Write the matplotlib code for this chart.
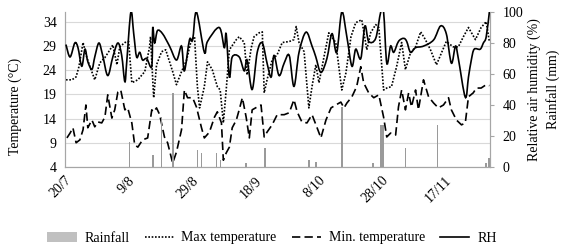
import matplotlib
matplotlib.use("Agg")
import matplotlib.pyplot as plt
import numpy as np
from matplotlib.lines import Line2D
from matplotlib.patches import Patch, PathPatch
from matplotlib.path import Path

# ==========================
# DATA (days counted from 20/7)
# ==========================
TICK_LABELS = ["20/7", "9/8", "29/8", "18/9", "8/10", "28/10", "17/11"]

rh_day = [0.3, 1.6, 3.1, 4.1, 5.3, 6.3, 7.2, 8.5, 9.4, 10.7, 11.9, 13.5, 15.1, 16.7, 17.9,
          18.9, 19.5, 20.8, 21.7, 22.6, 23.6, 24.5, 25.8, 27.4, 27.7, 28.3, 29.2, 30.8, 33.0, 35.2,
          36.8, 37.7, 39.3, 40.3, 41.5, 44.0, 45.0, 48.7, 50.3, 50.9, 51.9, 52.8, 55.0, 56.6, 57.5,
          59.1, 60.7, 62.3, 63.8, 65.1, 66.0, 67.6, 69.2, 70.8, 72.3, 73.9, 76.1, 78.0, 79.2, 80.8,
          82.7, 84.3, 85.8, 87.4, 89.0, 90.6, 91.8, 93.4, 94.7, 95.9, 98.1, 99.7, 100.6, 101.6, 102.8,
          103.8, 105.3, 106.9, 107.9, 109.1, 110.7, 113.2, 116.4, 118.6, 120.4, 122.0, 123.3, 124.2,
          126.4, 127.4, 128.3, 129.2, 131.1, 132.1, 133.0, 134.0]
rh_val = [79, 71, 80, 77, 65, 76, 68, 63, 71, 80, 72, 59, 71, 80, 72,
          55, 68, 100, 86, 71, 74, 69, 70, 65, 90, 80, 88, 86, 78, 69,
          78, 62, 82, 82, 100, 74, 81, 90, 77, 86, 58, 71, 71, 62, 69,
          50, 74, 80, 67, 58, 72, 59, 67, 72, 52, 74, 87, 78, 71, 61,
          70, 86, 74, 100, 84, 65, 76, 70, 91, 81, 83, 100, 100, 67, 78,
          74, 81, 83, 81, 74, 77, 78, 82, 91, 86, 67, 78, 70,
          45, 58, 69, 76, 76, 80, 84, 100]

tmax_day = [0.3, 2.2, 3.5, 4.4, 5.7, 6.9, 7.9, 9.4, 11.0, 12.6, 14.2, 15.1, 16.4, 17.3, 18.9,
            20.1, 21.1, 23.0, 25.2, 26.7, 27.0, 28.0, 28.9, 30.5, 31.8, 34.0, 35.2, 36.8, 38.4, 39.9,
            40.9, 41.8, 42.5, 44.0, 45.0, 46.5, 48.1, 49.0, 50.0, 50.9, 51.9, 54.1, 55.0, 56.6, 57.5,
            58.8, 59.7, 61.3, 62.3, 62.9, 63.8, 65.4, 67.0, 68.6, 70.8, 72.3, 73.0, 73.9, 75.5, 77.0,
            78.0, 79.2, 80.2, 81.8, 83.3, 85.5, 87.4, 88.7, 90.3, 91.8, 93.7, 95.3, 96.5, 98.1, 99.1,
            100.6, 101.6, 103.1, 104.7, 106.3, 107.5, 109.1, 110.7, 112.3, 113.8, 115.4, 117.3, 118.9,
            120.4, 122.6, 124.2, 125.8, 127.4, 129.6, 131.4, 133.0, 134.0]
tmax_val = [22.0, 22.0, 22.6, 24.7, 29.7, 26.6, 24.7, 22.0, 25.5, 26.6, 28.2, 29.2, 25.1, 28.8, 29.7,
            29.9, 21.4, 22.0, 23.7, 28.8, 30.9, 18.3, 25.1, 27.8, 28.2, 23.7, 21.0, 23.7, 26.1, 30.3,
            30.9, 20.6, 16.2, 20.6, 25.7, 24.1, 20.6, 19.9, 13.1, 19.9, 28.2, 30.3, 30.9, 29.7, 23.0,
            28.6, 30.9, 31.7, 31.9, 19.3, 22.0, 26.1, 27.2, 29.7, 29.9, 30.3, 33.0, 29.7, 27.8, 16.2,
            20.6, 25.1, 21.4, 26.8, 31.7, 29.7, 19.9, 23.4, 30.9, 33.8, 34.4, 28.2, 31.7, 33.4, 32.8,
            19.9, 20.3, 20.6, 24.7, 29.7, 24.1, 27.6, 28.8, 31.9, 30.3, 28.2, 25.1, 27.6,
            29.9, 28.8, 28.8, 30.9, 32.8, 30.3, 32.8, 34.0, 29.9]

tmin_day = [0.6, 1.6, 2.5, 3.5, 4.7, 5.7, 6.6, 7.2, 8.5, 9.4, 10.4, 11.6, 12.6, 13.5, 14.8,
            15.7, 16.7, 17.6, 18.9, 19.8, 21.1, 22.0, 23.0, 24.5, 26.1, 27.4, 28.0, 28.9, 29.9, 31.4,
            32.4, 34.0, 35.2, 36.8, 37.7, 38.7, 40.3, 41.5, 43.1, 44.0, 45.6, 47.2, 48.1, 49.4, 50.0,
            50.9, 51.9, 52.8, 54.1, 55.0, 56.0, 57.2, 58.2, 59.1, 60.7, 61.9, 62.9, 63.8, 65.4, 67.0,
            69.2, 70.8, 72.3, 73.3, 74.8, 76.4, 78.0, 79.6, 80.8, 82.4, 84.0, 85.5, 87.1, 88.1, 89.0,
            90.6, 92.1, 93.4, 94.3, 95.9, 97.5, 99.1, 100.6, 101.6, 102.8, 104.4, 105.3, 106.3, 107.5,
            108.5, 109.4, 110.7, 111.6, 113.2, 114.8, 116.4, 117.9, 119.5, 121.1, 122.0, 123.6, 125.2,
            126.4, 127.4, 128.9, 129.9, 131.4, 133.0, 134.0]
tmin_val = [10.0, 11.0, 12.1, 9.0, 9.6, 11.7, 16.8, 12.1, 13.7, 12.3, 13.3, 13.1, 14.3, 18.9, 14.1,
            15.8, 19.5, 19.9, 15.8, 16.2, 13.1, 8.6, 8.1, 9.6, 10.0, 15.8, 15.4, 16.2, 14.8, 10.2,
            9.0, 4.8, 7.1, 11.7, 19.9, 18.3, 18.3, 16.4, 12.1, 10.0, 11.2, 14.3, 15.4, 13.1, 5.4,
            6.9, 8.1, 12.1, 13.7, 15.8, 18.3, 14.3, 10.0, 15.8, 16.4, 16.8, 10.2, 11.2, 12.7, 14.8,
            14.8, 15.2, 17.9, 15.4, 13.3, 13.1, 14.8, 12.1, 10.0, 13.7, 16.2, 16.8, 17.4, 16.2, 17.2,
            18.5, 20.6, 24.7, 21.4, 19.3, 18.3, 18.9, 14.3, 10.2, 11.0, 10.6, 16.4, 19.9, 15.8,
            19.3, 16.4, 19.9, 15.8, 22.0, 18.5, 17.2, 16.2, 16.8, 18.3, 15.8, 13.7, 12.7,
            13.1, 18.5, 19.3, 20.3, 20.3, 21.0, 20.8]

rain_day = [20.4, 27.7, 30.5, 34.0, 41.8, 43.1, 47.8, 49.1, 57.2, 63.2,
            77.0, 79.2, 87.4, 97.2, 99.7, 100.3, 107.5, 117.6, 133.0, 134.0]
rain_mm = [16, 8, 32, 48, 11, 9, 9, 4.5, 2.5, 12,
           4.5, 3.5, 39, 2.5, 27, 27, 12, 27, 2.5, 6]

# ==========================
# STYLE
# ==========================
plt.rcParams["font.family"] = ["Liberation Serif", "DejaVu Serif"]
plt.rcParams["font.size"] = 10
GRID = "#d9d9d9"
SPINE = "#a6a6a6"
BAR = "#9a9a9a"
DOTS = (0, (1, 1))
DASHES = (0, (5, 2.5))


def smooth_path(xs, ys):
    """Bezier path through the points, like a spreadsheet 'smoothed line'."""
    p = np.column_stack([xs, ys]).astype(float)
    n = len(p)
    verts = [p[0]]
    codes = [Path.MOVETO]
    for i in range(n - 1):
        p0 = p[max(i - 1, 0)]
        p1 = p[i]
        p2 = p[i + 1]
        p3 = p[min(i + 2, n - 1)]
        t1 = (p2 - p0) / 6
        t2 = (p3 - p1) / 6
        seg = p2[0] - p1[0]
        # keep handles inside the segment so the curve does not loop back
        if t1[0] > seg:
            t1 = t1 * seg / t1[0]
        if t2[0] > seg:
            t2 = t2 * seg / t2[0]
        verts += [p1 + t1, p2 - t2, p2]
        codes += [Path.CURVE4] * 3
    return Path(verts, codes)


fig = plt.figure(figsize=(5.77, 2.5), dpi=100)
ax = fig.add_axes([65 / 577, 1 - 167 / 250, 425 / 577, 155 / 250])
ax2 = ax.twinx()

# temperatures on the left axis
ax.plot(tmax_day, tmax_val, color="black", lw=1.2, linestyle=DOTS)
ax.plot(tmin_day, tmin_val, color="black", lw=1.2, linestyle=DASHES)

# rainfall + humidity on the right axis
ax2.bar(rain_day, rain_mm, width=0.55, color=BAR, zorder=1)
ax2.add_patch(PathPatch(smooth_path(rh_day, rh_val), facecolor="none",
                        edgecolor="black", lw=1.2, zorder=3, clip_on=True))

ax.set_xlim(0, 134.2)
ax.set_ylim(4, 36)
ax2.set_ylim(0, 100)
ax.set_yticks(range(4, 35, 5))
ax2.set_yticks(range(0, 101, 20))
ax.set_xticks(range(0, 121, 20))
ax.set_xticklabels(TICK_LABELS, rotation=45, ha="right", rotation_mode="anchor")

ax.grid(axis="y", color=GRID, lw=0.8)
ax.set_axisbelow(True)

for a in (ax, ax2):
    a.spines["top"].set_visible(False)
    for s in ("left", "right", "bottom"):
        a.spines[s].set_color(SPINE)
ax.tick_params(axis="y", length=0, pad=6)
ax.tick_params(axis="x", length=0, pad=5)
ax2.tick_params(axis="y", length=3, color=SPINE, pad=6)

ax.set_ylabel("Temperature (°C)")
ax.yaxis.set_label_coords(-0.101, 0.39)
ax2.set_ylabel("Relative air humidity (%)\nRainfall (mm)", linespacing=1.45)
ax2.yaxis.set_label_coords(1.089, 0.5)

handles = [
    Patch(facecolor="#c0c0c0", edgecolor="none"),
    Line2D([], [], color="black", lw=1.2, linestyle=DOTS),
    Line2D([], [], color="black", lw=1.2, linestyle=DASHES),
    Line2D([], [], color="black", lw=1.2),
]
labels = ["Rainfall", "Max temperature", "Min. temperature", "RH"]
fig.legend(handles, labels, loc="center", bbox_to_anchor=(272 / 577, 1 - 238 / 250),
           ncol=4, frameon=False, handlelength=2.1, handletextpad=0.55, columnspacing=1.1)

fig.savefig("out.png", dpi=100)
